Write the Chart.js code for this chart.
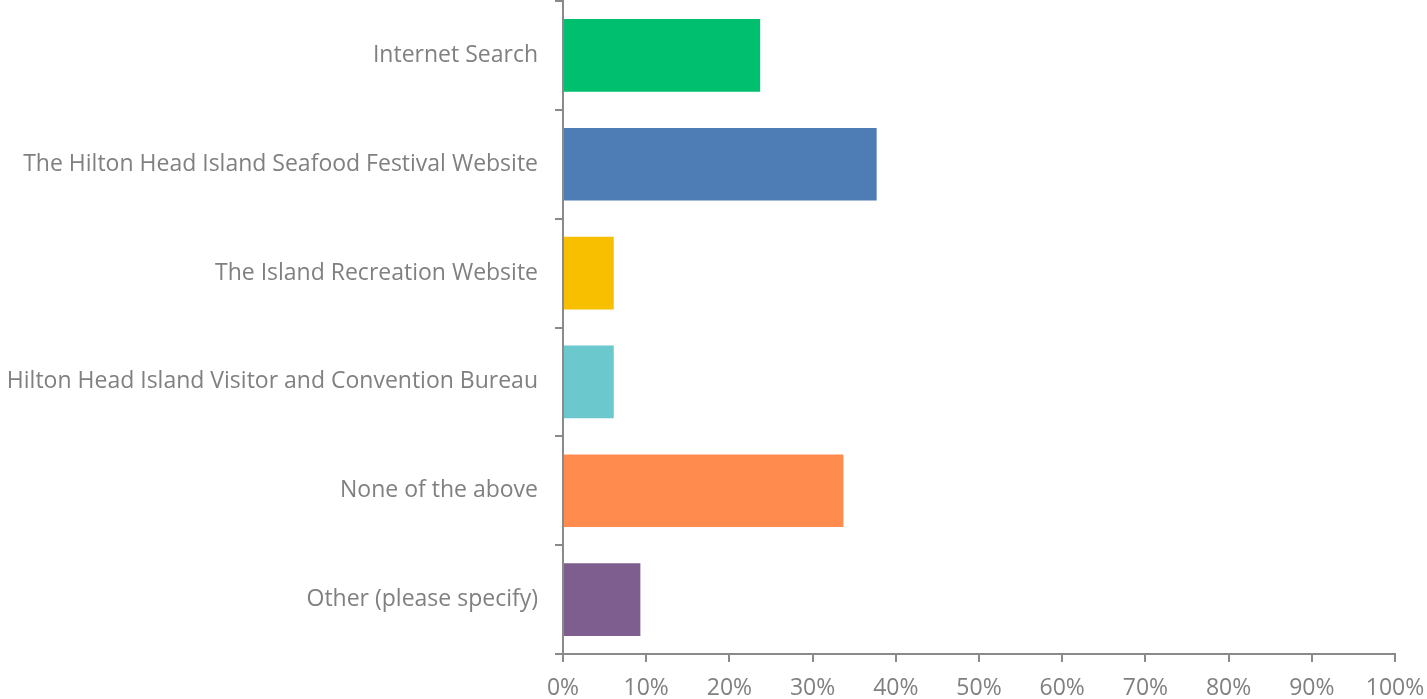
<!DOCTYPE html>
<html>
<head>
<meta charset="utf-8">
<script src="https://cdn.jsdelivr.net/npm/chart.js@4"></script>
<style>
html,body{margin:0;padding:0;background:#fff;}
#wrap{position:relative;width:1427px;height:699px;}
</style>
</head>
<body>
<div id="wrap"><canvas id="c" width="1427" height="699"></canvas></div>
<script>
const categories = [
  "Internet Search",
  "The Hilton Head Island Seafood Festival Website",
  "The Island Recreation Website",
  "Hilton Head Island Visitor and Convention Bureau",
  "None of the above",
  "Other (please specify)"
];
const percentValues = [23.7, 37.7, 6.1, 6.1, 33.7, 9.3];
const barColors = ["#00BF6F", "#4E7CB5", "#F8BE00", "#6BC8CD", "#FF8B4F", "#7D5E8E"];
const xTickValues = [0, 10, 20, 30, 40, 50, 60, 70, 80, 90, 100];

const axisColor = "#8a8a8a";
const textColor = "#808080";
const fontFamily = "'Open Sans', sans-serif";

new Chart(document.getElementById('c'), {
  type: 'bar',
  data: {
    labels: categories,
    datasets: [{
      data: percentValues,
      backgroundColor: barColors,
      borderWidth: 0,
      barPercentage: 0.667,
      categoryPercentage: 1.0
    }]
  },
  options: {
    indexAxis: 'y',
    responsive: false,
    animation: false,
    layout: { padding: { top: 1, right: 32, left: 0, bottom: 0 } },
    plugins: { legend: { display: false }, tooltip: { enabled: false } },
    scales: {
      x: {
        min: 0, max: 100,
        afterBuildTicks: (s) => { s.ticks = xTickValues.map(v => ({ value: v })); },
        afterFit: (s) => { s.height = 45; s.paddingLeft = 0; s.paddingRight = 0; },
        ticks: {
          color: textColor,
          font: { family: fontFamily, size: 23 },
          padding: 13,
          maxRotation: 0,
          callback: (v) => v + '%'
        },
        grid: { drawOnChartArea: false, drawTicks: true, tickLength: 8, color: axisColor, lineWidth: 2 },
        border: { color: axisColor, width: 2 }
      },
      y: {
        afterFit: (s) => { s.width = 563; s.paddingTop = 0; s.paddingBottom = 0; },
        ticks: {
          color: textColor,
          font: { family: fontFamily, size: 23 },
          padding: 17,
          crossAlign: 'near'
        },
        grid: { offset: true, drawOnChartArea: false, drawTicks: true, tickLength: 8, color: axisColor, lineWidth: 2 },
        border: { color: axisColor, width: 2 }
      }
    }
  }
});
</script>
</body>
</html>
